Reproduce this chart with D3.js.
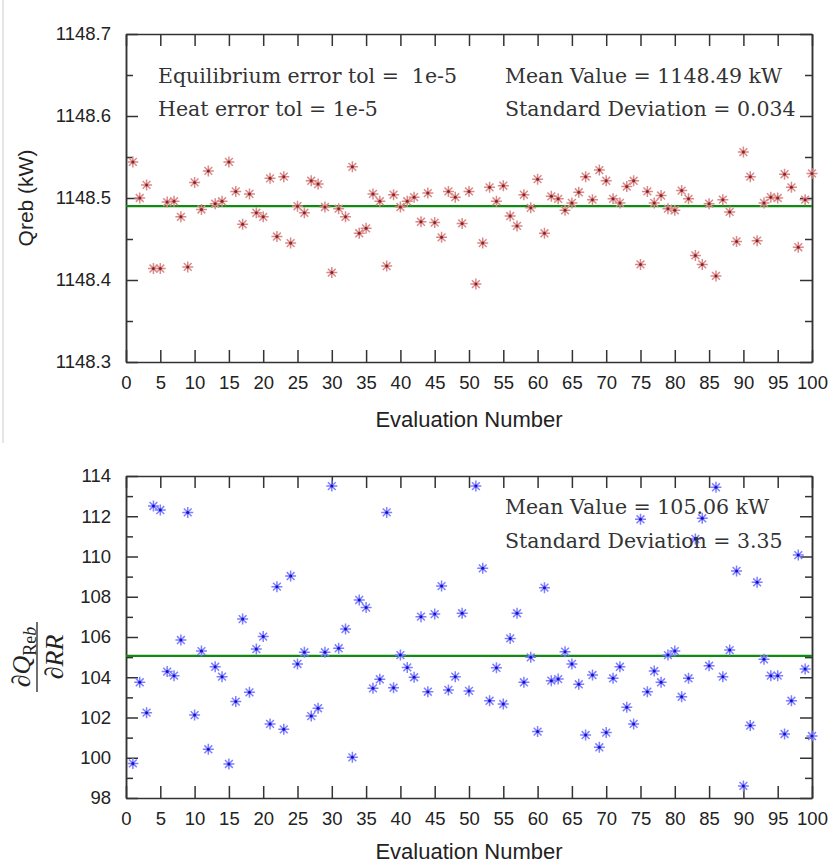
<!DOCTYPE html>
<html>
<head>
<meta charset="utf-8">
<script src="https://cdn.jsdelivr.net/npm/d3@7"></script>
<style>
  body { margin: 0; background: #fff; }
  svg { display: block; }
  .axis text { font-family: "Liberation Sans", Arial, sans-serif; font-size: 18.5px; fill: #222; }
  .axis path, .axis line { stroke: #333; stroke-width: 1.5px; }
  .note { font-family: "DejaVu Serif", serif; font-size: 20.5px; fill: #333; white-space: pre; }
  .title { font-family: "Liberation Sans", Arial, sans-serif; font-size: 21px; fill: #222; }
</style>
</head>
<body>
<svg id="chart" width="834" height="866"></svg>
<script>
// evaluation values (evaluation 1..100)
const qrebValues = [
  1148.544, 1148.500, 1148.516, 1148.414, 1148.414, 1148.495, 1148.496, 1148.477, 1148.416, 1148.519,
  1148.486, 1148.533, 1148.493, 1148.496, 1148.544, 1148.508, 1148.468, 1148.505, 1148.482, 1148.477,
  1148.524, 1148.453, 1148.526, 1148.445, 1148.490, 1148.482, 1148.521, 1148.517, 1148.489, 1148.409,
  1148.487, 1148.477, 1148.538, 1148.457, 1148.463, 1148.505, 1148.496, 1148.417, 1148.504, 1148.489,
  1148.496, 1148.501, 1148.471, 1148.506, 1148.470, 1148.452, 1148.508, 1148.501, 1148.469, 1148.508,
  1148.395, 1148.445, 1148.513, 1148.496, 1148.515, 1148.478, 1148.466, 1148.504, 1148.488, 1148.523,
  1148.457, 1148.502, 1148.499, 1148.485, 1148.494, 1148.507, 1148.526, 1148.498, 1148.534, 1148.521,
  1148.499, 1148.494, 1148.514, 1148.521, 1148.419, 1148.508, 1148.494, 1148.503, 1148.487, 1148.485,
  1148.509, 1148.499, 1148.430, 1148.419, 1148.493, 1148.405, 1148.498, 1148.483, 1148.447, 1148.556,
  1148.526, 1148.448, 1148.494, 1148.501, 1148.500, 1148.529, 1148.513, 1148.440, 1148.498, 1148.530
]

const sensValues = [
  99.72, 103.75, 102.24, 112.51, 112.31, 104.28, 104.08, 105.85, 112.19, 102.12,
  105.30, 100.42, 104.52, 104.03, 99.69, 102.79, 106.89, 103.25, 105.40, 106.02,
  101.68, 108.50, 101.41, 109.03, 104.66, 105.24, 102.07, 102.46, 105.24, 113.50,
  105.44, 106.40, 100.02, 107.84, 107.46, 103.45, 103.90, 112.19, 103.48, 105.10,
  104.49, 104.00, 107.01, 103.28, 107.14, 108.53, 103.37, 104.03, 107.18, 103.32,
  113.50, 109.41, 102.83, 104.47, 102.67, 105.93, 107.18, 103.75, 104.99, 101.30,
  108.45, 103.83, 103.91, 105.27, 104.66, 103.65, 101.13, 104.11, 100.52, 101.25,
  103.95, 104.52, 102.51, 101.68, 111.85, 103.28, 104.31, 103.75, 105.10, 105.30,
  103.03, 103.95, 110.87, 111.90, 104.57, 113.44, 104.03, 105.35, 109.28, 98.60,
  101.60, 108.72, 104.89, 104.08, 104.08, 101.18, 102.83, 110.07, 104.41, 101.08
]

const qrebMean = 1148.49
const sensMean = 105.06

const xTicks = [0, 5, 10, 15, 20, 25, 30, 35, 40, 45, 50, 55, 60, 65, 70, 75, 80, 85, 90, 95, 100]
const qrebTicks = [1148.3, 1148.4, 1148.5, 1148.6, 1148.7]
const qrebMinorTicks = [1148.35, 1148.45, 1148.55, 1148.65]
const sensTicks = [98, 100, 102, 104, 106, 108, 110, 112, 114]
const sensMinorTicks = [99, 101, 103, 105, 107, 109, 111, 113]

const qrebNotes = [
  { text: 'Equilibrium error tol =  1e-5', col: 0, row: 0 },
  { text: 'Heat error tol = 1e-5', col: 0, row: 1 },
  { text: 'Mean Value = 1148.49 kW', col: 1, row: 0 },
  { text: 'Standard Deviation = 0.034', col: 1, row: 1 },
]
const sensNotes = [
  { text: 'Mean Value = 105.06 kW', col: 1, row: 0 },
  { text: 'Standard Deviation = 3.35', col: 1, row: 1 },
]

const svg = d3.select('#chart')

// faint frame edge left of the upper panel
svg.append('line')
  .attr('x1', 3).attr('x2', 3).attr('y1', 0).attr('y2', 443)
  .attr('stroke', '#ddd').attr('stroke-width', 1.5)

const starPath = 'M-5.5,0H5.5M0,-5.5V5.5M-3.9,-3.9L3.9,3.9M-3.9,3.9L3.9,-3.9'

function drawPanel({ values, mean, yDomain, yTicks, yMinor, yFormat, top, bottom, notes, noteY, titleGap, armColor, dotColor }) {
  const left = 126
  const right = 812
  const x = d3.scaleLinear().domain([0, 100]).range([left, right])
  const y = d3.scaleLinear().domain(yDomain).range([bottom, top])

  const g = svg.append('g')

  // major/minor ticks on all four sides, pointing inward
  g.append('g').attr('class', 'axis')
    .attr('transform', `translate(0,${bottom})`)
    .call(d3.axisBottom(x).tickValues(xTicks).tickSizeInner(-12).tickSizeOuter(0).tickPadding(14))
  g.append('g').attr('class', 'axis')
    .attr('transform', `translate(0,${top})`)
    .call(d3.axisTop(x).tickValues(xTicks).tickSizeInner(-12).tickSizeOuter(0).tickFormat(''))
  g.append('g').attr('class', 'axis')
    .attr('transform', `translate(${left},0)`)
    .call(d3.axisLeft(y).tickValues(yTicks).tickSizeInner(-12).tickSizeOuter(0).tickPadding(15).tickFormat(yFormat))
  g.append('g').attr('class', 'axis')
    .attr('transform', `translate(${left},0)`)
    .call(d3.axisLeft(y).tickValues(yMinor).tickSizeInner(-7).tickSizeOuter(0).tickFormat(''))
  g.append('g').attr('class', 'axis')
    .attr('transform', `translate(${right},0)`)
    .call(d3.axisRight(y).tickValues(yTicks).tickSizeInner(-12).tickSizeOuter(0).tickFormat(''))
  g.append('g').attr('class', 'axis')
    .attr('transform', `translate(${right},0)`)
    .call(d3.axisRight(y).tickValues(yMinor).tickSizeInner(-7).tickSizeOuter(0).tickFormat(''))

  // mean line
  g.append('line')
    .attr('x1', left).attr('x2', right)
    .attr('y1', y(mean)).attr('y2', y(mean))
    .attr('stroke', '#118a11').attr('stroke-width', 2.2)

  // asterisk markers
  const pts = g.append('g').selectAll('g.pt')
    .data(values)
    .enter()
    .append('g')
    .attr('class', 'pt')
    .attr('transform', (d, i) => `translate(${x(i + 1)},${y(d)})`)
  pts.append('path')
    .attr('d', starPath)
    .attr('stroke', armColor)
    .attr('stroke-width', 1.5)
    .attr('fill', 'none')
  pts.append('circle')
    .attr('r', 1.5)
    .attr('fill', dotColor)

  // text notes inside the panel
  g.selectAll('text.note')
    .data(notes)
    .enter()
    .append('text')
    .attr('class', 'note')
    .attr('x', (d) => (d.col === 0 ? 158 : 505))
    .attr('y', (d) => noteY[d.row])
    .text((d) => d.text)

  // x axis title
  g.append('text')
    .attr('class', 'title')
    .attr('text-anchor', 'middle')
    .attr('x', (left + right) / 2)
    .attr('y', bottom + titleGap)
    .style('font-size', '22px')
    .text('Evaluation Number')

  return { x, y }
}

drawPanel({
  values: qrebValues,
  mean: qrebMean,
  yDomain: [1148.3, 1148.7],
  yTicks: qrebTicks,
  yMinor: qrebMinorTicks,
  yFormat: d3.format('.1f'),
  top: 34,
  bottom: 362,
  notes: qrebNotes,
  noteY: [83, 116],
  titleGap: 65,
  armColor: '#d98a8a',
  dotColor: '#8e1f1f',
})

drawPanel({
  values: sensValues,
  mean: sensMean,
  yDomain: [98, 114],
  yTicks: sensTicks,
  yMinor: sensMinorTicks,
  yFormat: d3.format('d'),
  top: 476,
  bottom: 798,
  notes: sensNotes,
  noteY: [514, 548],
  titleGap: 61,
  armColor: '#7f7fff',
  dotColor: '#1111cc',
})

// y axis titles
svg.append('text')
  .attr('class', 'title')
  .attr('text-anchor', 'middle')
  .attr('transform', 'translate(33,198) rotate(-90)')
  .text('Qreb (kW)')

const frac = svg.append('g')
  .attr('transform', 'translate(37,657) rotate(-90)')
  .style('font-family', '"Liberation Serif", "DejaVu Serif", serif')
  .style('font-size', '26px')
  .attr('fill', '#222')

const num = frac.append('text').attr('text-anchor', 'middle').attr('y', -7)
num.append('tspan').text('∂')
num.append('tspan').style('font-style', 'italic').text('Q')
num.append('tspan').attr('dy', 6).style('font-size', '18px').text('Re')
num.append('tspan').style('font-size', '18px').style('font-style', 'italic').text('b')

frac.append('line')
  .attr('x1', -35).attr('x2', 35).attr('y1', 0).attr('y2', 0)
  .attr('stroke', '#222').attr('stroke-width', 1.3)

const den = frac.append('text').attr('text-anchor', 'middle').attr('y', 26)
den.append('tspan').text('∂')
den.append('tspan').style('font-style', 'italic').text('RR')
</script>
</body>
</html>
